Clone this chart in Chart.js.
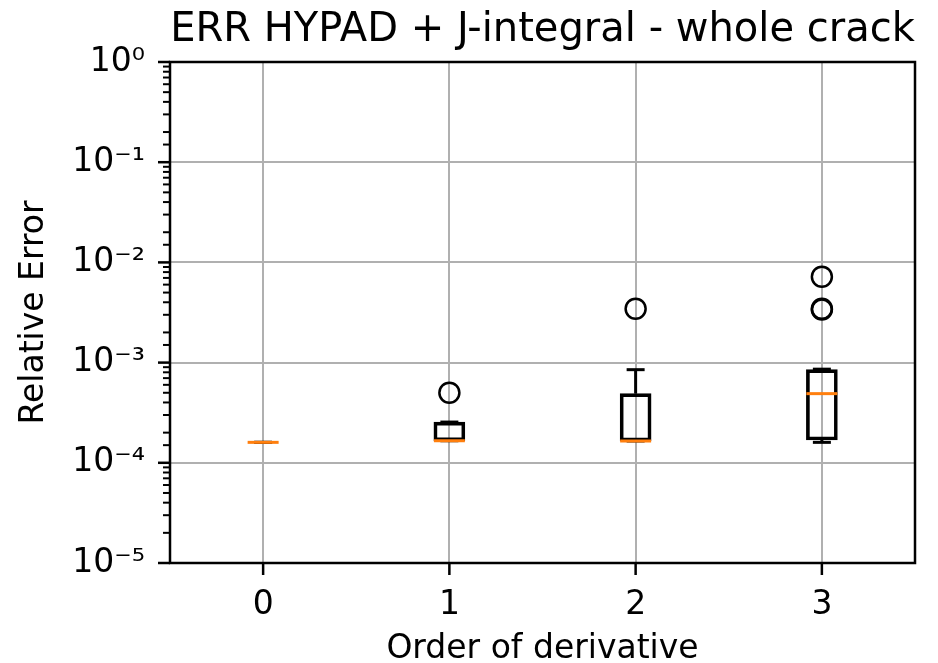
<!DOCTYPE html>
<html>
<head>
<meta charset="utf-8">
<script src="https://cdn.jsdelivr.net/npm/chart.js@4/dist/chart.umd.min.js"></script>
<style>
  html, body { margin: 0; padding: 0; background: #fff; }
  #wrap { width: 938px; height: 663px; }
</style>
</head>
<body>
<div id="wrap"><canvas id="chart"></canvas></div>
<script>
// box plot stats per derivative order
const CATEGORIES = [0, 1, 2, 3];
const Q1 = [1.6e-4, 1.66e-4, 1.65e-4, 1.69e-4];
const Q3 = [1.6e-4, 2.55e-4, 4.9e-4, 8.5e-4];
const MEDIAN = [1.6e-4, 1.66e-4, 1.65e-4, 4.9e-4];
const WHISKER_LOW = [1.6e-4, 1.66e-4, 1.65e-4, 1.6e-4];
const WHISKER_HIGH = [1.6e-4, 2.55e-4, 8.5e-4, 8.6e-4];
const OUTLIERS = [[], [5.0e-4], [3.45e-3], [7.2e-3, 3.45e-3, 3.38e-3]];

const Y_MIN = 1e-5;
const Y_MAX = 1;

const BOX_PX = 31;
const CAP_PX = 9;
const FONT = "'DejaVu Sans', sans-serif";

const SUP = { '-': '\u207B', '0': '\u2070', '1': '\u00B9', '2': '\u00B2', '3': '\u00B3',
  '4': '\u2074', '5': '\u2075', '6': '\u2076', '7': '\u2077', '8': '\u2078', '9': '\u2079' };

function isDecade(v) {
  const l = Math.log10(v);
  return Math.abs(l - Math.round(l)) < 1e-9;
}

function decadeLabel(v) {
  const e = String(Math.round(Math.log10(v)));
  return '10' + e.split('').map(c => SUP[c]).join('');
}

const datasets = [];

datasets.push({
  type: 'bar',
  data: CATEGORIES.map((c, i) => ({ x: c, y: [Q1[i], Q3[i]] })),
  backgroundColor: 'rgba(0,0,0,0)',
  borderColor: '#000',
  borderWidth: 3,
  borderSkipped: false,
  barThickness: BOX_PX,
  order: 3
});

CATEGORIES.forEach((c, i) => {
  [[Q3[i], WHISKER_HIGH[i]], [Q1[i], WHISKER_LOW[i]]].forEach(([from, to]) => {
    datasets.push({
      type: 'line',
      data: [{ x: c, y: from }, { x: c, y: to }],
      borderColor: '#000',
      borderWidth: 3,
      pointStyle: 'line',
      pointRadius: [0, CAP_PX],
      pointBorderColor: '#000',
      pointBorderWidth: 3,
      order: 2
    });
  });
});

datasets.push({
  type: 'line',
  data: CATEGORIES.map((c, i) => ({ x: c, y: MEDIAN[i] })),
  showLine: false,
  pointStyle: 'line',
  pointRadius: BOX_PX / 2,
  pointBorderColor: '#ff7f0e',
  pointBorderWidth: 3,
  order: 1
});

datasets.push({
  type: 'line',
  data: CATEGORIES.flatMap((c, i) => OUTLIERS[i].map(v => ({ x: c, y: v }))),
  showLine: false,
  pointStyle: 'circle',
  pointRadius: 10,
  pointBackgroundColor: 'rgba(0,0,0,0)',
  pointBorderColor: '#000',
  pointBorderWidth: 2.5,
  order: 0
});

// tick marks (major/minor) and the frame, matplotlib style
const axisDecor = {
  id: 'axisDecor',
  afterDraw(chart) {
    const { ctx, chartArea: a, scales: { x, y } } = chart;
    ctx.save();
    ctx.strokeStyle = '#000';
    y.ticks.forEach(t => {
      const py = y.getPixelForValue(t.value);
      const major = isDecade(t.value);
      ctx.lineWidth = major ? 2.5 : 2;
      ctx.beginPath();
      ctx.moveTo(a.left - (major ? 12 : 7), py);
      ctx.lineTo(a.left, py);
      ctx.stroke();
    });
    x.ticks.forEach(t => {
      const px = x.getPixelForValue(t.value);
      ctx.lineWidth = 2.5;
      ctx.beginPath();
      ctx.moveTo(px, a.bottom);
      ctx.lineTo(px, a.bottom + 12);
      ctx.stroke();
    });
    ctx.lineWidth = 2.5;
    ctx.strokeRect(a.left, a.top, a.right - a.left, a.bottom - a.top);
    ctx.restore();
  }
};

new Chart(document.getElementById('chart'), {
  type: 'bar',
  data: { datasets },
  plugins: [axisDecor],
  options: {
    responsive: true,
    maintainAspectRatio: false,
    animation: false,
    devicePixelRatio: 1,
    layout: { padding: { left: 0, right: 23, top: 0, bottom: 0 } },
    plugins: {
      legend: { display: false },
      tooltip: { enabled: false },
      title: {
        display: true,
        text: 'ERR HYPAD + J-integral - whole crack',
        fullSize: false,
        color: '#000',
        font: { family: FONT, size: 40, weight: 'normal', lineHeight: 1.2 },
        padding: { top: 7, bottom: 7 }
      }
    },
    scales: {
      x: {
        type: 'linear',
        min: -0.5,
        max: 3.5,
        offset: false,
        afterBuildTicks: s => { s.ticks = CATEGORIES.map(v => ({ value: v })); },
        afterFit: s => { s.height = 100; },
        ticks: {
          padding: 23,
          color: '#000',
          font: { family: FONT, size: 33 },
          callback: v => String(v)
        },
        grid: { color: '#b0b0b0', lineWidth: 2, drawTicks: false, offset: false },
        border: { display: false },
        title: {
          display: true,
          text: 'Order of derivative',
          color: '#000',
          font: { family: FONT, size: 33, lineHeight: 0.8 },
          padding: { top: 0, bottom: 0 }
        }
      },
      y: {
        type: 'logarithmic',
        min: Y_MIN,
        max: Y_MAX,
        afterFit: s => { s.width = 170; },
        ticks: {
          autoSkip: false,
          padding: 25,
          color: '#000',
          font: { family: FONT, size: 33 },
          callback: v => isDecade(v) ? decadeLabel(v) : ''
        },
        grid: {
          color: c => (c.tick && isDecade(c.tick.value)) ? '#b0b0b0' : 'rgba(0,0,0,0)',
          lineWidth: 2,
          drawTicks: false
        },
        border: { display: false },
        title: {
          display: true,
          text: 'Relative Error',
          color: '#000',
          font: { family: FONT, size: 33, lineHeight: 1 },
          padding: { top: 18, bottom: 0 }
        }
      }
    }
  }
});
</script>
</body>
</html>
